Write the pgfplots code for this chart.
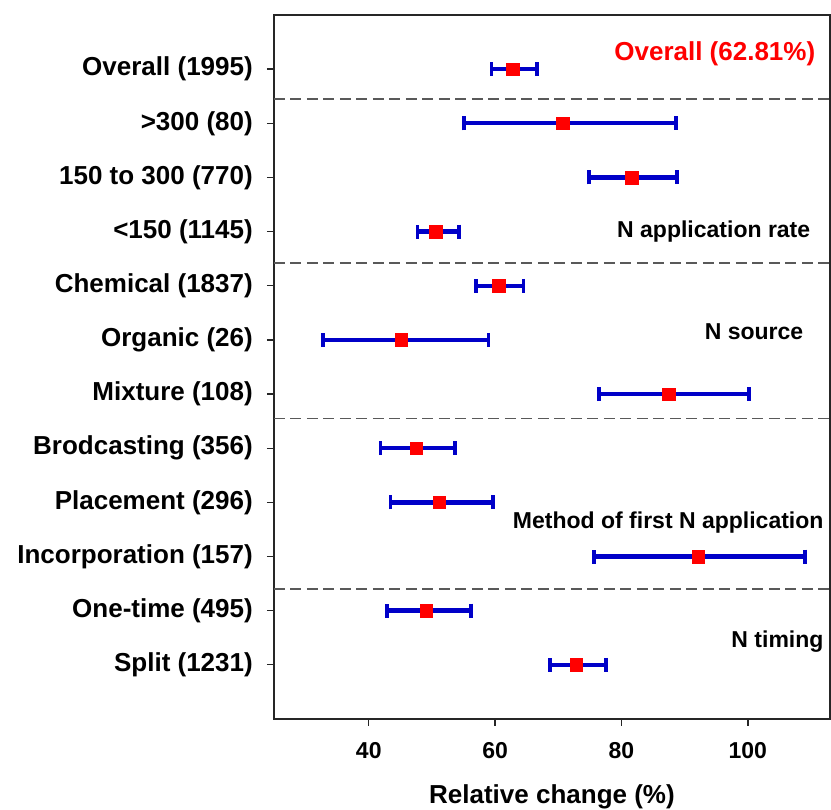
\documentclass[border=0pt]{standalone}
\usepackage{pgfplots}
\pgfplotsset{compat=1.18}
\usepackage{pgfplotstable}
\usepackage{fontspec}
\setmainfont{Liberation Sans}
\definecolor{ebblue}{RGB}{0,0,200}
\definecolor{mkred}{RGB}{255,0,0}
\pgfplotstableread{
y lo m hi
12 59.41 62.81 66.60
11 55.05 70.73 88.67
10 74.86 81.60 88.84
9 47.70 50.64 54.32
8 56.98 60.54 64.50
7 32.70 45.15 58.96
6 76.39 87.48 100.16
5 41.87 47.53 53.64
4 43.45 51.15 59.69
3 75.71 92.12 109.04
2 42.89 49.11 56.13
1 68.64 72.82 77.52
}\datatable
\begin{document}
\begin{tikzpicture}
\begin{axis}[
  at={(0,0)}, anchor=south west,
  scale only axis, width=556pt, height=704pt,
  xmin=25, xmax=113, ymin=0, ymax=13,
  axis line style={line width=1.6pt, black!85},
  xtick={40,60,80,100},
  ytick={1,...,12},
  yticklabels={Split (1231), One-time (495), Incorporation (157), Placement (296), Brodcasting (356), Mixture (108), Organic (26), Chemical (1837), <150 (1145), 150 to 300 (770), >300 (80), Overall (1995)},
  tick align=outside, tickwidth=7pt,
  major tick style={line width=1.3pt, black!85},
  xtick pos=bottom, ytick pos=left,
  /pgf/number format/assume math mode=true,
  xticklabel style={font=\bfseries\fontsize{23}{27}\selectfont, anchor=center, inner sep=0pt, yshift=-25pt},
  yticklabel style={font=\bfseries\fontsize{26}{30}\selectfont, anchor=east, inner sep=0pt, xshift=-14pt},
  xlabel={Relative change (\%)},
  xlabel style={font=\bfseries\fontsize{26}{30}\selectfont, at={(axis description cs:0.5,0)}, anchor=center, inner sep=0pt, yshift=-78pt},
  clip=false,
]
\addplot[dash pattern=on 11pt off 5.5pt, line width=1.4pt, black!65] coordinates {(25,11.45) (113,11.45)};
\addplot[dash pattern=on 11pt off 5.5pt, line width=1.4pt, black!65] coordinates {(25,8.42) (113,8.42)};
\addplot[dash pattern=on 11pt off 5.5pt, line width=1.4pt, black!65] coordinates {(25,5.55) (113,5.55)};
\addplot[dash pattern=on 11pt off 5.5pt, line width=1.4pt, black!65] coordinates {(25,2.40) (113,2.40)};
\addplot[only marks, mark=none,
  error bars/.cd, x dir=both, x explicit,
  error mark=-,
  error bar style={line width=4.4pt, ebblue},
  error mark options={line width=3.8pt, ebblue, mark size=7pt, rotate=90},
] table[x=m, y=y, x error plus expr=\thisrow{hi}-\thisrow{m}, x error minus expr=\thisrow{m}-\thisrow{lo}] {\datatable};
\addplot[only marks, mark=square*, mark size=6.3pt, mkred, mark options={draw=mkred, fill=mkred}] table[x=m, y=y] {\datatable};
\node[anchor=east, inner sep=0pt, text=mkred, font=\bfseries\fontsize{26}{30}\selectfont] at (axis cs:110.7,12.28) {Overall (62.81\%)};
\node[anchor=east, inner sep=0pt, font=\bfseries\fontsize{23}{27}\selectfont] at (axis cs:109.9,9.0) {N application rate};
\node[anchor=east, inner sep=0pt, font=\bfseries\fontsize{23}{27}\selectfont] at (axis cs:108.8,7.16) {N source};
\node[anchor=east, inner sep=0pt, font=\bfseries\fontsize{23}{27}\selectfont] at (axis cs:112.0,3.63) {Method of first N application};
\node[anchor=east, inner sep=0pt, font=\bfseries\fontsize{23}{27}\selectfont] at (axis cs:112.0,1.43) {N timing};
\end{axis}
\pgfresetboundingbox
\path[use as bounding box] (-274pt,-91pt) rectangle (557pt,719pt);
\end{tikzpicture}
\end{document}
